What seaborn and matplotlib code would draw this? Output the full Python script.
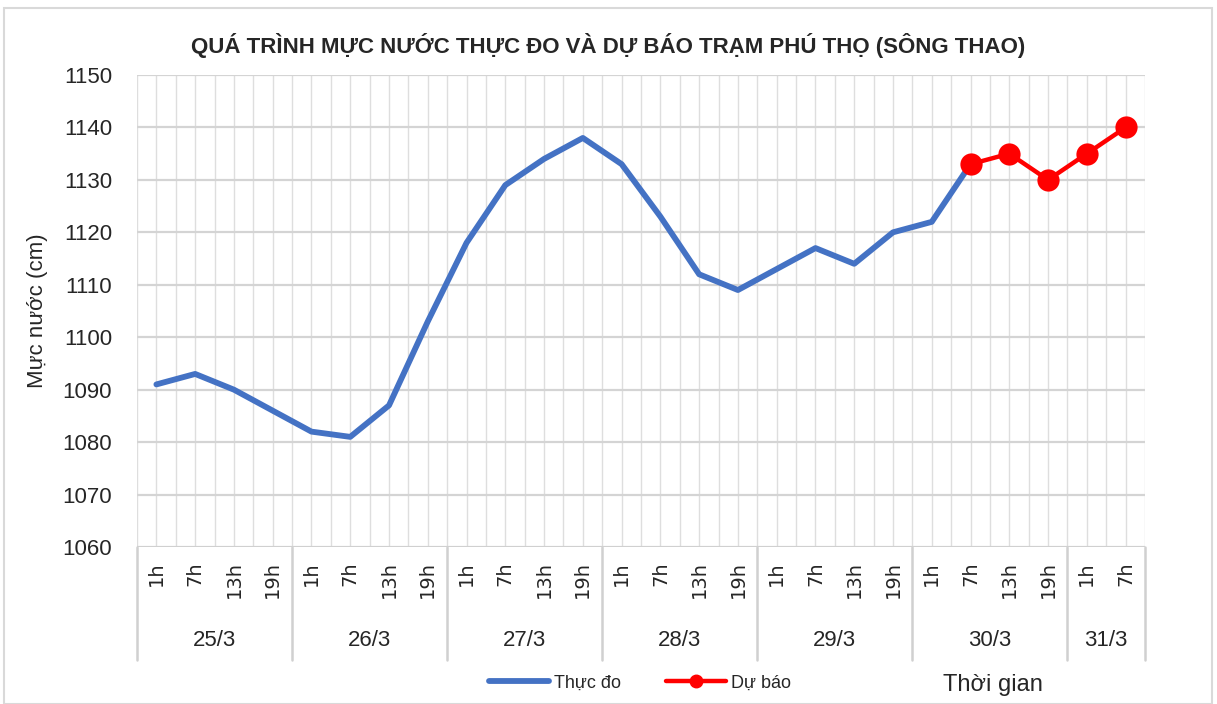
import matplotlib
matplotlib.use('Agg')
import matplotlib.pyplot as plt
import matplotlib.transforms as mtransforms
from matplotlib.patches import Rectangle
from matplotlib.lines import Line2D
import seaborn as sns
import numpy as np
import pandas as pd

# category axis: day / hour
days = ['25/3'] * 4 + ['26/3'] * 4 + ['27/3'] * 4 + ['28/3'] * 4 + ['29/3'] * 4 + ['30/3'] * 4 + ['31/3'] * 2
hours = ['1h', '7h', '13h', '19h'] * 6 + ['1h', '7h']

# water level (cm)
thuc_do = [1091, 1093, 1090, 1086, 1082, 1081, 1087, 1103,
           1118, 1129, 1134, 1138, 1133, 1123, 1112, 1109,
           1113, 1117, 1114, 1120, 1122, 1133]
du_bao = [1133, 1135, 1130, 1135, 1140]
du_bao_start = 21  # forecast starts at 30/3 7h

sns.set_style('white')
plt.rcParams['font.family'] = ['Liberation Sans', 'DejaVu Sans']

fig = plt.figure(figsize=(12.17, 7.04), dpi=100)
W, H = 1217, 704
ax = fig.add_axes([137 / W, (H - 547) / H, (1145 - 137) / W, (547 - 75) / H])

df_obs = pd.DataFrame({'x': np.arange(len(thuc_do)), 'y': thuc_do})
df_fc = pd.DataFrame({'x': np.arange(du_bao_start, du_bao_start + len(du_bao)), 'y': du_bao})

sns.lineplot(data=df_obs, x='x', y='y', ax=ax, color='#4472C4', linewidth=4.2, zorder=3)
sns.lineplot(data=df_fc, x='x', y='y', ax=ax, color='#FF0000', linewidth=3.2,
             marker='o', markersize=16, markeredgewidth=0, zorder=4)

n = len(hours)
ax.set_xlim(-0.5, n - 0.5)
ax.set_ylim(1060, 1150)
ax.set_yticks(np.arange(1060, 1151, 10))
ax.set_xticks(np.arange(n))
ax.set_xticklabels(hours, rotation=90, fontsize=14, family='DejaVu Sans')
ax.set_xticks(np.arange(-0.5, n, 1), minor=True)
ax.tick_params(axis='x', which='both', length=0, pad=10)
ax.tick_params(axis='y', length=0, pad=18, labelsize=16)
ax.grid(axis='x', which='both', color='#dedede', linewidth=1)
ax.grid(axis='y', which='major', color='#d4d4d4', linewidth=1.6)
for s in ax.spines.values():
    s.set_visible(False)
ax.axhline(1060, color='#d0d0d0', linewidth=2, zorder=1)
ax.set_xlabel('')
ax.set_ylabel('Mực nước (cm)', fontsize=16, labelpad=10)

# day group labels and separators below the axis
trans = mtransforms.blended_transform_factory(ax.transData, ax.transAxes)
bounds = [-0.5]
for i in range(1, n):
    if days[i] != days[i - 1]:
        bounds.append(i - 0.5)
bounds.append(n - 0.5)
for b in bounds:
    ax.plot([b, b], [0, -0.24], transform=trans, color='#d0d0d0', linewidth=1.8, clip_on=False)
for a, b in zip(bounds[:-1], bounds[1:]):
    ax.text((a + b) / 2, -0.198, days[int(a + 0.5)], transform=trans, ha='center', va='center', fontsize=16)

fig.suptitle('QUÁ TRÌNH MỰC NƯỚC THỰC ĐO VÀ DỰ BÁO TRẠM PHÚ THỌ (SÔNG THAO)',
             x=608 / W, y=1 - 45 / H, va='center', fontsize=16, fontweight='bold')

handles = [Line2D([], [], color='#4472C4', linewidth=4.2),
           Line2D([], [], color='#FF0000', linewidth=3.2, marker='o', markersize=9)]
fig.legend(handles, ['Thực đo', 'Dự báo'], loc='center', bbox_to_anchor=(640 / W, 1 - 683 / H),
           ncol=2, frameon=False, fontsize=13, handlelength=3.3, columnspacing=2.5, handletextpad=0.3)
fig.text(993 / W, 1 - 685 / H, 'Thời gian', ha='center', va='center', fontsize=17)

fig.patches.append(Rectangle((4 / W, 0), (1212 - 4) / W, 1 - 8 / H, transform=fig.transFigure,
                             fill=False, edgecolor='#d9d9d9', linewidth=1.5))

fig.savefig('out.png', dpi=100)
